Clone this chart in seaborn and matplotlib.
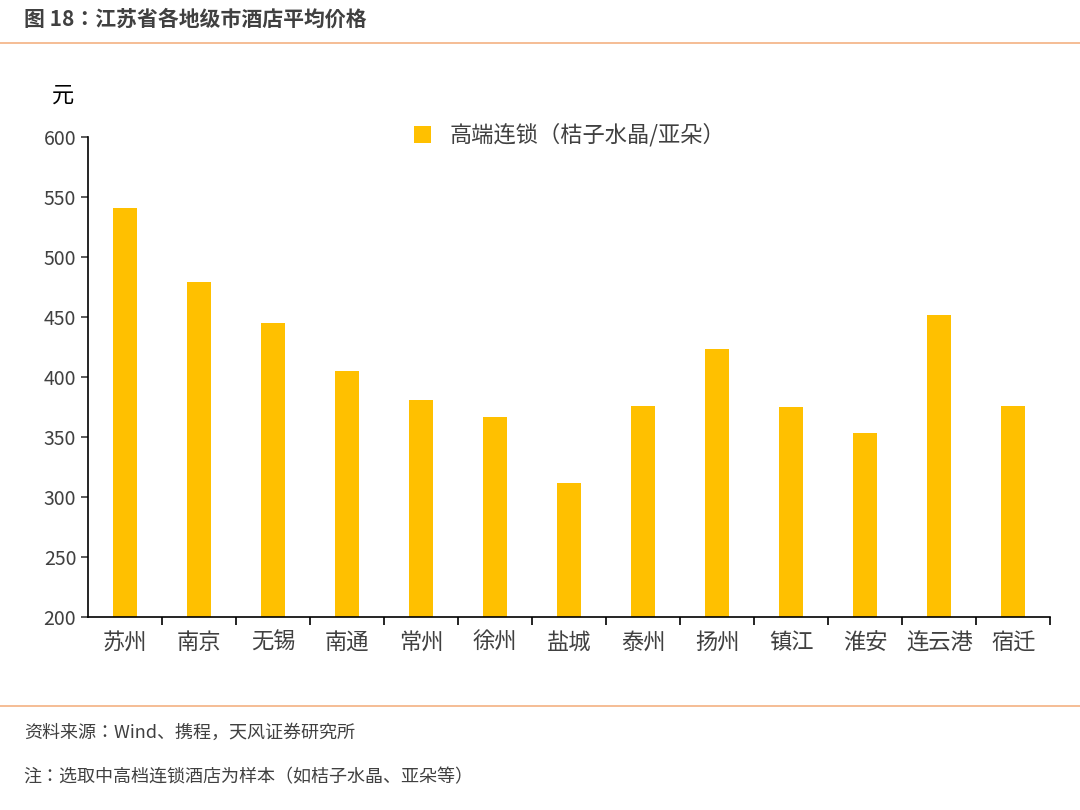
import matplotlib
matplotlib.use("Agg")
import matplotlib.pyplot as plt
from matplotlib import font_manager
import seaborn as sns
import pandas as pd

cjk = [f.name for f in font_manager.fontManager.ttflist if "CJK" in f.name]
cjk_name = "Noto Sans CJK SC" if "Noto Sans CJK SC" in cjk else (cjk[0] if cjk else "DejaVu Sans")
plt.rcParams["font.family"] = [cjk_name, "DejaVu Sans"]

cities = ["苏州", "南京", "无锡", "南通", "常州", "徐州", "盐城", "泰州", "扬州", "镇江", "淮安", "连云港", "宿迁"]
prices = [541, 479, 445, 405, 381, 367, 312, 376, 423, 375, 353, 452, 376]
series_name = "高端连锁（桔子水晶/亚朵）"

df = pd.DataFrame({"city": cities, "price": prices})

fig = plt.figure(figsize=(10.8, 8.1), dpi=100)
ax = fig.add_axes([0.0815, 0.238, 0.891, 0.593])
sns.barplot(data=df, x="city", y="price", color="#FFC000", width=0.32,
            saturation=1, ax=ax, label=series_name)

ax.set_ylim(200, 600)
ax.set_yticks(range(200, 601, 50))
ax.set_xlim(-0.5, len(cities) - 0.5)
ax.set_xlabel("")
ax.set_ylabel("")
for s in ["top", "right"]:
    ax.spines[s].set_visible(False)
for s in ["left", "bottom"]:
    ax.spines[s].set_color("#000000")
    ax.spines[s].set_linewidth(1.2)
ax.tick_params(axis="y", labelsize=14, colors="#404040", length=5, width=1.2)
ax.tick_params(axis="x", labelsize=16, colors="#404040", length=0, pad=10)
ax.set_xticks([i + 0.5 for i in range(len(cities))], minor=True)
ax.tick_params(axis="x", which="minor", length=6, width=1.2)

ax.legend(loc="upper center", bbox_to_anchor=(0.5, 1.07), frameon=False,
          fontsize=16, handlelength=0.8, handleheight=0.8, labelcolor="#404040")
fig.text(0.048, 0.875, "元", fontsize=16, color="#000000")

fig.text(0.022, 0.977, "图 18：江苏省各地级市酒店平均价格", fontsize=15,
         fontweight="bold", color="#404040", va="center")
fig.add_artist(plt.Line2D([0.0, 1.0], [0.947, 0.947], color="#F4B183", lw=1.2))
fig.add_artist(plt.Line2D([0.0, 1.0], [0.128, 0.128], color="#F4B183", lw=1.2))
fig.text(0.022, 0.095, "资料来源：Wind、携程，天风证券研究所", fontsize=13, color="#404040", va="center")
fig.text(0.022, 0.040, "注：选取中高档连锁酒店为样本（如桔子水晶、亚朵等）", fontsize=13, color="#404040", va="center")

fig.savefig("out.png", dpi=100)
